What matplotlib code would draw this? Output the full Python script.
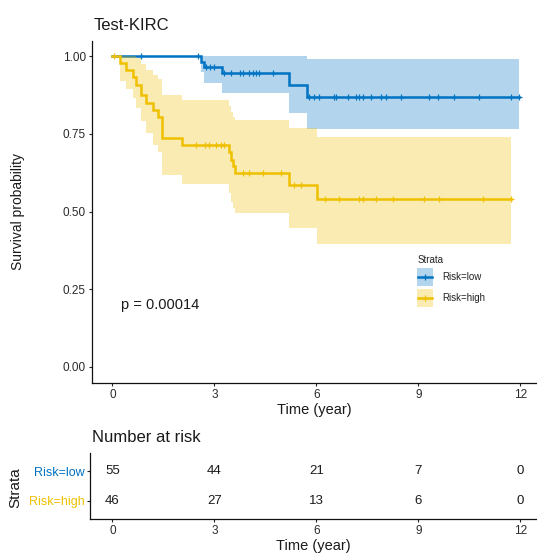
import numpy as np
import matplotlib
matplotlib.use("Agg")
import matplotlib.pyplot as plt
from matplotlib.patches import Rectangle
from matplotlib.lines import Line2D

plt.rcParams['font.family'] = ['Liberation Sans', 'DejaVu Sans']

# ---------------- data ----------------
title = "Test-KIRC"
strata = ["Risk=low", "Risk=high"]
colors = ["#0073C2", "#EFC000"]

# Risk=low
t_low = [0, 2.61, 2.70, 3.22, 5.19, 5.71]
s_low = [1.0, 0.982, 0.964, 0.944, 0.907, 0.869]
up_low = [1.0, 1.0, 1.0, 1.0, 1.0, 0.989]
lo_low = [1.0, 0.950, 0.914, 0.880, 0.818, 0.764]
end_low = 11.97
cens_low = [0.84, 2.51, 2.76, 2.87, 3.0, 3.29, 3.49, 3.74, 3.83, 4.03, 4.13, 4.23,
            4.32, 4.71, 5.79, 5.94, 6.09, 6.53, 6.58, 6.92, 7.17, 7.26, 7.36, 7.61,
            7.90, 8.05, 8.49, 9.32, 9.57, 10.06, 10.79, 11.73, 11.97]

# Risk=high
t_high = [0, 0.23, 0.40, 0.60, 0.70, 0.84, 0.99, 1.19, 1.33, 1.45, 2.04,
          3.44, 3.49, 3.54, 3.62, 5.19, 6.02]
s_high = [1.0, 0.977, 0.955, 0.933, 0.907, 0.875, 0.849, 0.826, 0.805, 0.735, 0.713,
          0.690, 0.665, 0.645, 0.623, 0.585, 0.540]
up_high = [1.0, 1.0, 1.0, 1.0, 0.995, 0.975, 0.955, 0.940, 0.925, 0.875, 0.858,
           0.840, 0.820, 0.805, 0.794, 0.768, 0.740]
lo_high = [1.0, 0.920, 0.895, 0.865, 0.833, 0.790, 0.752, 0.715, 0.692, 0.617, 0.590,
           0.560, 0.530, 0.510, 0.494, 0.446, 0.395]
end_high = 11.73
cens_high = [0.06, 2.46, 2.71, 2.85, 3.05, 3.20, 3.29, 3.83, 4.03, 4.42, 4.96, 5.35,
             5.55, 6.24, 6.68, 7.26, 7.36, 7.75, 8.24, 9.18, 9.62, 10.89, 11.73]

pval_text = "p = 0.00014"

risk_times = [0, 3, 6, 9, 12]
risk_low = [55, 44, 21, 7, 0]
risk_high = [46, 27, 13, 6, 0]

xticks = [0, 3, 6, 9, 12]
yticks = [0.00, 0.25, 0.50, 0.75, 1.00]

# ---------------- figure ----------------
W, H = 537, 554
fig = plt.figure(figsize=(W / 100, H / 100), dpi=100)
TXT = '#1a1a1a'


def fx(x):
    return x / W


def fy(y):
    return 1 - y / H


ax = fig.add_axes([fx(92), fy(382.5), fx(537) - fx(92), fy(40.5) - fy(382.5)])
ax.set_xlim(-0.6, 12.49)
ax.set_ylim(-0.05, 1.05)

groups = [
    (t_low, s_low, up_low, lo_low, end_low, cens_low, colors[0]),
    (t_high, s_high, up_high, lo_high, end_high, cens_high, colors[1]),
]

for t, s, up, lo, end, cens, c in groups:
    te = np.array(list(t) + [end])
    se = np.array(list(s) + [s[-1]])
    ue = np.array(list(up) + [up[-1]])
    le = np.array(list(lo) + [lo[-1]])
    ax.step(te, se, where='post', color=c, lw=1.8, zorder=2, solid_joinstyle='miter')
    idx = np.searchsorted(np.array(t), np.array(cens), side='right') - 1
    ax.plot(cens, np.array(s)[idx], ls='none', marker='+', ms=4.8, mew=0.9,
            color=c, zorder=2)
    ax.fill_between(te, le, ue, step='post', color=c, alpha=0.3, lw=0, zorder=3)

ax.text(0.24, 0.2, pval_text, fontsize=10.5, ha='left', va='center', color=TXT)

for sp in ['top', 'right']:
    ax.spines[sp].set_visible(False)
for sp in ['left', 'bottom']:
    ax.spines[sp].set_linewidth(0.9)
    ax.spines[sp].set_color('#111111')
ax.set_xticks(xticks)
ax.set_xticklabels([str(v) for v in xticks])
ax.set_yticks(yticks)
ax.set_yticklabels([f"{v:.2f}" for v in yticks])
ax.tick_params(axis='both', length=2.5, width=0.8, pad=2, labelsize=8.5,
               labelcolor='#2a2a2a', color='#222222')
ax.set_xlabel("Time (year)", fontsize=10.5, labelpad=1.5, color=TXT)

fig.text(fx(18), fy(211), "Survival probability", rotation=90, ha='center',
         va='center', fontsize=10, color=TXT)
fig.text(fx(94), fy(25), title, fontsize=12, ha='left', va='center', color=TXT)

# legend (manual)
fig.text(fx(418), fy(260), "Strata", fontsize=7, ha='left', va='center',
         color='#222222')
for i, (lab, c) in enumerate(zip(strata, colors)):
    yc = 277 + i * 21
    fig.patches.append(Rectangle((fx(417), fy(yc + 9)), fx(433) - fx(417),
                                 fy(yc - 9) - fy(yc + 9), transform=fig.transFigure,
                                 facecolor=c, alpha=0.3, lw=0))
    fig.lines.append(Line2D([fx(418), fx(432)], [fy(yc), fy(yc)],
                            transform=fig.transFigure, color=c, lw=1.8))
    fig.lines.append(Line2D([fx(425)], [fy(yc)], transform=fig.transFigure,
                            color=c, marker='+', ms=4.8, mew=0.9))
    fig.text(fx(442), fy(yc), lab, fontsize=7, ha='left', va='center',
             color='#222222')

# ---------------- risk table ----------------
ax2 = fig.add_axes([fx(90), fy(519), fx(537) - fx(90), fy(453) - fy(519)])
ax2.set_xlim(-0.66, 12.49)
ax2.set_ylim(0.4, 2.6)
for yv, vals in zip([2, 1], [risk_low, risk_high]):
    for tv, n in zip(risk_times, vals):
        ax2.text(tv, yv, str(n), ha='center', va='center', fontsize=9.5, color=TXT)
for sp in ['top', 'right']:
    ax2.spines[sp].set_visible(False)
for sp in ['left', 'bottom']:
    ax2.spines[sp].set_linewidth(0.9)
    ax2.spines[sp].set_color('#111111')
ax2.set_xticks(xticks)
ax2.set_xticklabels([str(v) for v in xticks])
ax2.set_yticks([2, 1])
ax2.set_yticklabels(strata)
for lbl, c in zip(ax2.get_yticklabels(), colors):
    lbl.set_color(c)
ax2.tick_params(axis='x', length=2.5, width=0.8, pad=2, labelsize=8.5,
                labelcolor='#2a2a2a', color='#222222')
ax2.tick_params(axis='y', length=2.5, width=0.8, pad=1.5, labelsize=9,
                color='#222222')
ax2.set_xlabel("Time (year)", fontsize=10.5, labelpad=1.5, color=TXT)
fig.text(fx(15), fy(488), "Strata", rotation=90, ha='center', va='center',
         fontsize=11, color=TXT)
fig.text(fx(92), fy(438), "Number at risk", fontsize=12, ha='left', va='center',
         color=TXT)

fig.savefig("out.png", dpi=100)
